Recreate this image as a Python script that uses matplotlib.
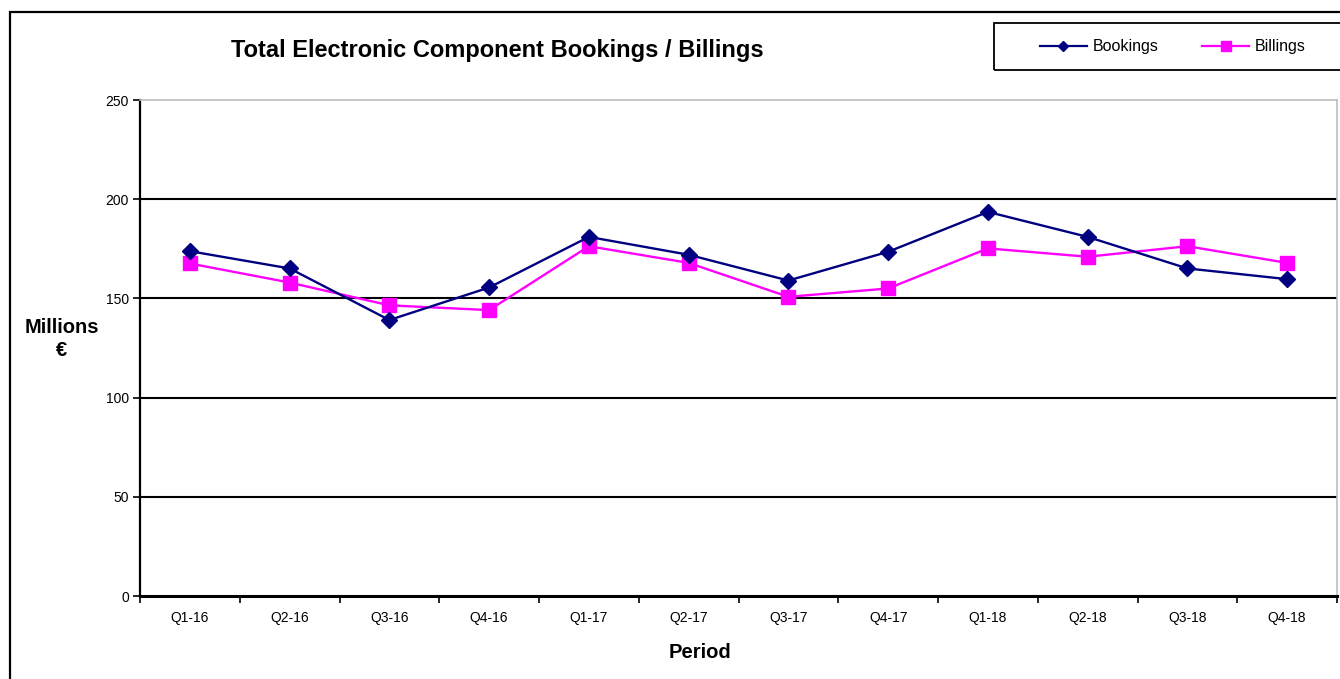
import matplotlib
matplotlib.use("Agg")
import matplotlib.pyplot as plt
from matplotlib.patches import Rectangle
from matplotlib.lines import Line2D

categories = ["Q1-16", "Q2-16", "Q3-16", "Q4-16", "Q1-17", "Q2-17",
              "Q3-17", "Q4-17", "Q1-18", "Q2-18", "Q3-18", "Q4-18"]
bookings = [173.8, 165.1, 139.1, 155.5, 181.0, 172.0, 159.0, 173.5, 193.6, 181.0, 165.1, 159.7]
billings = [167.6, 158.0, 146.5, 144.1, 176.3, 167.9, 150.8, 155.0, 175.2, 171.0, 176.3, 167.9]
yticks = [0, 50, 100, 150, 200, 250]

plt.rcParams['font.family'] = ['Liberation Sans', 'DejaVu Sans']

W, H = 1340, 679
fig = plt.figure(figsize=(W / 100, H / 100), dpi=100)
ax = fig.add_axes([140 / W, 1 - 596 / H, (1337 - 140) / W, (596 - 100) / H])

x = list(range(len(categories)))
ax.plot(x, bookings, color="#000080", lw=1.7, marker="D", markersize=8,
        markerfacecolor="#000080", markeredgecolor="#000080", zorder=4, label="Bookings")
ax.plot(x, billings, color="#FF00FF", lw=1.7, marker="s", markersize=10.5,
        markerfacecolor="#FF00FF", markeredgecolor="#FF00FF", zorder=3, label="Billings")

ax.set_xlim(-0.5, len(categories) - 0.5)
ax.set_ylim(0, 250)
ax.set_yticks(yticks)
ax.set_yticklabels([str(v) for v in yticks], fontsize=10)
for v in yticks[1:-1]:
    ax.axhline(v, color="black", lw=1.5, zorder=1)

ax.set_xticks(x)
ax.set_xticklabels(categories, fontsize=10)
ax.set_xticks([i - 0.5 for i in range(len(categories) + 1)], minor=True)
ax.tick_params(axis="x", which="major", length=0, pad=11)
ax.tick_params(axis="x", which="minor", length=5, width=1.2, direction="out")
ax.tick_params(axis="y", length=5, width=1.2, direction="out", pad=3)

ax.spines["left"].set_linewidth(1.6)
ax.spines["bottom"].set_linewidth(2.2)
ax.spines["top"].set_color("#bdbdbd")
ax.spines["right"].set_color("#bdbdbd")
ax.spines["top"].set_linewidth(1.2)
ax.spines["right"].set_linewidth(1.2)

fig.text(497 / W, 1 - 51 / H, "Total Electronic Component Bookings / Billings",
         fontsize=17, fontweight="bold", ha="center", va="center")
fig.text(62 / W, 1 - 339 / H, "Millions\n€", fontsize=14.5, fontweight="bold",
         ha="center", va="center", linespacing=1.3)
fig.text(700 / W, 1 - 652 / H, "Period", fontsize=14.5, fontweight="bold",
         ha="center", va="center")

# outer chart frame
fig.patches.append(Rectangle((10 / W, -0.2), 2.0, 1.2 - 12 / H, transform=fig.transFigure,
                             fill=False, edgecolor="black", lw=1.6, clip_on=False))
# legend box
fig.patches.append(Rectangle((994 / W, 1 - 70 / H), 400 / W, 47 / H, transform=fig.transFigure,
                             fill=False, edgecolor="black", lw=1.3, clip_on=False))
handles = [Line2D([], [], color="#000080", lw=1.6, marker="D", markersize=5.5),
           Line2D([], [], color="#FF00FF", lw=1.6, marker="s", markersize=6.5)]
fig.legend(handles, ["Bookings", "Billings"], loc="center left",
           bbox_to_anchor=(1040 / W, 1 - 47 / H), ncol=2, frameon=False,
           fontsize=11.5, handlelength=2.94, handletextpad=0.38, columnspacing=2.7,
           borderpad=0, borderaxespad=0)

fig.savefig("out.png", dpi=100)
